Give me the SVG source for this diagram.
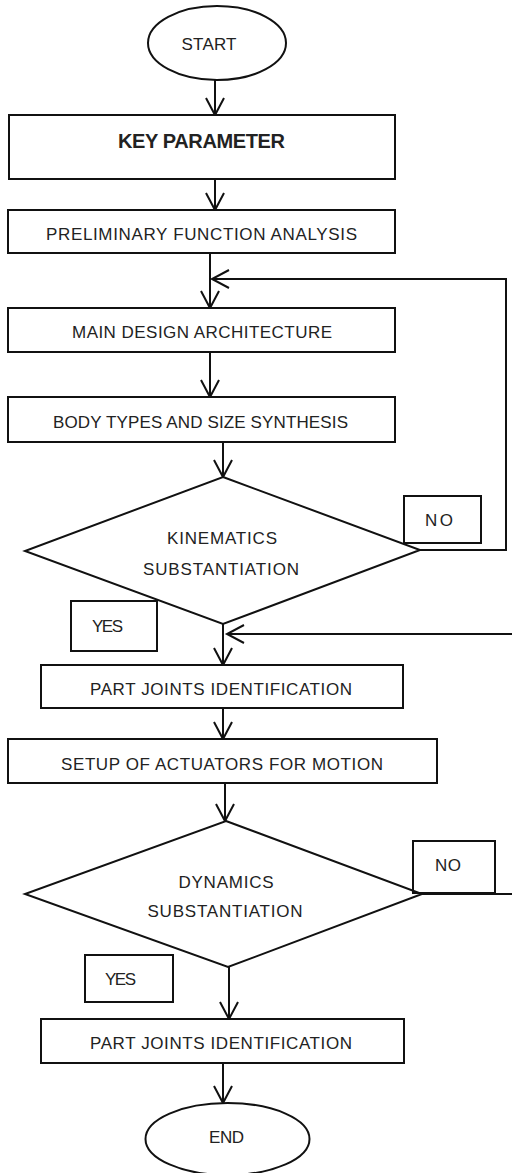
<svg xmlns="http://www.w3.org/2000/svg" width="512" height="1173" viewBox="0 0 512 1173">
<style>
.s{fill:#fff;stroke:#111;stroke-width:2}
.l{fill:none;stroke:#111;stroke-width:2}
.c{fill:none;stroke:#111;stroke-width:2}
.t{font-family:"Liberation Sans",Arial,sans-serif;font-size:17px;fill:#222;text-anchor:middle}
.b{font-weight:bold;font-size:20px}
</style>
<defs>
<marker id="ah" markerUnits="userSpaceOnUse" markerWidth="24" markerHeight="24" viewBox="-20 -12 24 24" refX="0" refY="0" orient="auto" overflow="visible">
<path d="M-17,-9 L0,0 L-17,9" fill="none" stroke="#111" stroke-width="2"/>
</marker>
</defs>
<rect width="512" height="1173" fill="#fff"/>
<g id="connectors">
<line class="c" x1="215" y1="80" x2="215" y2="115" marker-end="url(#ah)"/>
<line class="c" x1="215" y1="179" x2="215" y2="210" marker-end="url(#ah)"/>
<line class="c" x1="210" y1="253" x2="210" y2="308" marker-end="url(#ah)"/>
<line class="c" x1="210" y1="352" x2="210" y2="397" marker-end="url(#ah)"/>
<line class="c" x1="223" y1="442" x2="223" y2="477" marker-end="url(#ah)"/>
<polyline class="c" points="420,550 506,550 506,279 212,279" marker-end="url(#ah)"/>
<line class="c" x1="223" y1="624" x2="223" y2="665" marker-end="url(#ah)"/>
<line class="c" x1="223" y1="708" x2="223" y2="739" marker-end="url(#ah)"/>
<line class="c" x1="225" y1="783" x2="225" y2="821" marker-end="url(#ah)"/>
<polyline class="c" points="420,894 514,894 514,634 227,634" marker-end="url(#ah)"/>
<line class="c" x1="229" y1="967" x2="229" y2="1019" marker-end="url(#ah)"/>
<line class="c" x1="223" y1="1063" x2="223" y2="1103" marker-end="url(#ah)"/>
</g>
<g id="start"><ellipse class="s" cx="217" cy="43" rx="69" ry="37"/><text class="t" x="209" y="50" textLength="55">START</text></g>
<g id="key"><rect class="s" x="9" y="115" width="386" height="64"/><text class="t b" x="201.5" y="148" textLength="167">KEY PARAMETER</text></g>
<g id="prelim"><rect class="s" x="8" y="210" width="387" height="43"/><text class="t" x="201.5" y="240" textLength="311">PRELIMINARY FUNCTION ANALYSIS</text></g>
<g id="main"><rect class="s" x="8" y="308" width="387" height="44"/><text class="t" x="202" y="338" textLength="260">MAIN DESIGN ARCHITECTURE</text></g>
<g id="body"><rect class="s" x="8" y="397" width="387" height="45"/><text class="t" x="200.5" y="428" textLength="295">BODY TYPES AND SIZE SYNTHESIS</text></g>
<g id="kin"><polygon class="s" points="223,477 420,550 223,624 25,551"/><text class="t" x="222" y="544" textLength="110">KINEMATICS</text><text class="t" x="221" y="575" textLength="156">SUBSTANTIATION</text></g>
<g id="no1"><rect class="l" x="404" y="496" width="77" height="47"/><text class="t" x="439" y="526" textLength="28">NO</text></g>
<g id="yes1"><rect class="l" x="71" y="601" width="86" height="50"/><text class="t" x="107.5" y="632" textLength="31">YES</text></g>
<g id="part1"><rect class="s" x="41" y="665" width="362" height="43"/><text class="t" x="221" y="695" textLength="262">PART JOINTS IDENTIFICATION</text></g>
<g id="setup"><rect class="s" x="8" y="739" width="429" height="44"/><text class="t" x="222" y="770" textLength="322">SETUP OF ACTUATORS FOR MOTION</text></g>
<g id="dyn"><polygon class="s" points="226,821 422,894 228,967 25,894"/><text class="t" x="226" y="888" textLength="95">DYNAMICS</text><text class="t" x="225" y="917" textLength="155">SUBSTANTIATION</text></g>
<g id="no2"><rect class="l" x="413" y="841" width="82" height="52"/><text class="t" x="448" y="871" textLength="26">NO</text></g>
<g id="yes2"><rect class="l" x="85" y="955" width="88" height="47"/><text class="t" x="120.5" y="985" textLength="31">YES</text></g>
<g id="part2"><rect class="s" x="41" y="1019" width="363" height="44"/><text class="t" x="221" y="1049" textLength="262">PART JOINTS IDENTIFICATION</text></g>
<g id="end"><ellipse class="s" cx="227.5" cy="1139" rx="82" ry="36"/><text class="t" x="226.5" y="1143" textLength="35">END</text></g>
</svg>
